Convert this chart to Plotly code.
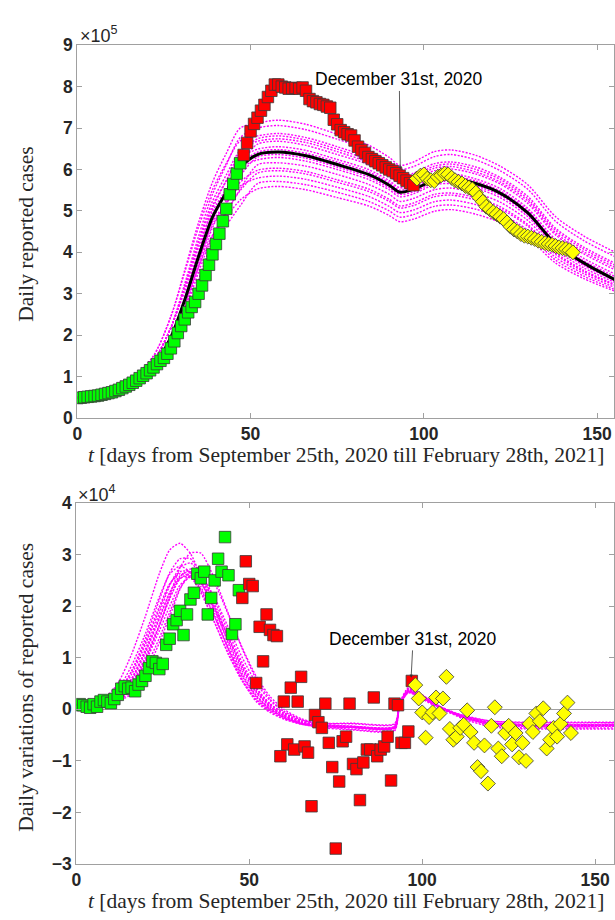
import plotly.graph_objects as go

# ---------------- top panel: daily reported cases (units of 1e5) ----------------
t_green = list(range(0, 48))
top_green = [0.48, 0.49, 0.50, 0.51, 0.52, 0.53, 0.54, 0.56, 0.58, 0.60,
             0.62, 0.65, 0.68, 0.72, 0.76, 0.80, 0.85, 0.90, 0.96, 1.02,
             1.08, 1.15, 1.22, 1.30, 1.38, 1.45, 1.55, 1.68, 1.85, 2.05,
             2.22, 2.38, 2.55, 2.68, 2.80, 3.00, 3.20, 3.45, 3.70, 3.95,
             4.20, 4.45, 4.75, 5.05, 5.40, 5.65, 5.90, 6.15]
t_red = list(range(48, 98))
top_red = [6.35, 6.64, 6.92, 7.10, 7.25, 7.42, 7.56, 7.75, 7.90, 8.05,
           8.05, 8.00, 7.98, 7.95, 7.96, 7.97, 7.95, 7.98, 7.90, 7.70,
           7.65, 7.62, 7.58, 7.56, 7.52, 7.49, 7.20, 7.09, 6.95, 6.90,
           6.85, 6.82, 6.70, 6.55, 6.47, 6.40, 6.30, 6.25, 6.20, 6.15,
           6.10, 6.05, 6.00, 5.96, 5.91, 5.85, 5.79, 5.73, 5.67, 5.62]
t_yellow = list(range(98, 144))
top_yellow = [5.78, 5.85, 5.88, 5.78, 5.74, 5.72, 5.82, 5.86, 5.90, 5.88,
              5.80, 5.74, 5.70, 5.66, 5.60, 5.56, 5.52, 5.44, 5.32, 5.22,
              5.10, 5.04, 4.97, 4.92, 4.86, 4.80, 4.72, 4.62, 4.55, 4.50,
              4.44, 4.40, 4.38, 4.35, 4.32, 4.28, 4.25, 4.22, 4.20, 4.18,
              4.15, 4.12, 4.10, 4.08, 4.05, 4.00]

t_fit = [0, 15, 22, 27, 31, 35, 39, 43, 47, 52, 58, 66, 75, 84, 90, 93, 97,
         103, 108, 115, 122, 130, 138, 146, 156]
fit_best = [0.48, 0.80, 1.25, 1.95, 2.85, 3.90, 4.85, 5.45, 6.05, 6.36, 6.42, 6.33, 6.12,
            5.88, 5.62, 5.45, 5.52, 5.74, 5.78, 5.66, 5.43, 4.95, 4.20, 3.75, 3.30]
fit_runs = [
    [0.50, 0.90, 1.50, 2.45, 3.57, 4.72, 5.69, 6.39, 7.00, 7.12, 7.19, 7.09, 6.85, 6.59, 6.29, 6.10, 6.18, 6.43, 6.47, 6.34, 6.08, 5.63, 4.86, 4.40, 3.97],
    [0.49, 0.85, 1.38, 2.18, 3.24, 4.39, 5.40, 6.11, 6.77, 7.00, 7.06, 6.96, 6.73, 6.47, 6.18, 6.00, 6.07, 6.31, 6.36, 6.23, 5.97, 5.52, 4.75, 4.29, 3.86],
    [0.50, 0.90, 1.50, 2.45, 3.52, 4.61, 5.51, 6.15, 6.69, 6.81, 6.87, 6.77, 6.55, 6.29, 6.01, 5.83, 5.91, 6.14, 6.18, 6.06, 5.81, 5.35, 4.58, 4.13, 3.70],
    [0.48, 0.80, 1.25, 1.95, 2.90, 4.02, 5.05, 5.73, 6.41, 6.74, 6.81, 6.71, 6.49, 6.23, 5.96, 5.78, 5.85, 6.08, 6.13, 6.00, 5.76, 5.29, 4.53, 4.08, 3.65],
    [0.49, 0.85, 1.38, 2.18, 3.20, 4.28, 5.23, 5.87, 6.46, 6.68, 6.74, 6.65, 6.43, 6.17, 5.90, 5.72, 5.80, 6.03, 6.07, 5.94, 5.70, 5.24, 4.47, 4.02, 3.60],
    [0.48, 0.77, 1.17, 1.78, 2.65, 3.72, 4.75, 5.48, 6.14, 6.61, 6.68, 6.58, 6.36, 6.12, 5.84, 5.67, 5.74, 5.97, 6.01, 5.89, 5.65, 5.18, 4.42, 3.97, 3.54],
    [0.49, 0.85, 1.38, 2.18, 3.17, 4.22, 5.12, 5.73, 6.27, 6.49, 6.55, 6.46, 6.24, 6.00, 5.73, 5.56, 5.63, 5.85, 5.90, 5.77, 5.54, 5.06, 4.31, 3.86, 3.44],
    [0.48, 0.80, 1.25, 1.95, 2.86, 3.92, 4.88, 5.49, 6.11, 6.42, 6.48, 6.39, 6.18, 5.94, 5.68, 5.50, 5.58, 5.80, 5.84, 5.72, 5.48, 5.01, 4.25, 3.80, 3.38],
    [0.48, 0.77, 1.17, 1.78, 2.62, 3.63, 4.59, 5.26, 5.84, 6.30, 6.36, 6.27, 6.06, 5.82, 5.56, 5.40, 5.46, 5.68, 5.72, 5.60, 5.38, 4.91, 4.16, 3.72, 3.31],
    [0.49, 0.85, 1.38, 2.18, 3.13, 4.14, 4.98, 5.53, 6.03, 6.23, 6.29, 6.20, 6.00, 5.76, 5.51, 5.34, 5.41, 5.63, 5.66, 5.55, 5.32, 4.86, 4.13, 3.69, 3.28],
    [0.47, 0.74, 1.10, 1.62, 2.37, 3.33, 4.28, 4.95, 5.52, 6.11, 6.16, 6.08, 5.88, 5.64, 5.40, 5.23, 5.30, 5.51, 5.55, 5.43, 5.21, 4.77, 4.06, 3.63, 3.24],
    [0.48, 0.80, 1.25, 1.95, 2.80, 3.78, 4.65, 5.17, 5.69, 5.98, 6.03, 5.95, 5.75, 5.53, 5.28, 5.12, 5.19, 5.40, 5.43, 5.32, 5.10, 4.67, 3.99, 3.57, 3.19],
    [0.48, 0.77, 1.17, 1.78, 2.56, 3.52, 4.39, 4.98, 5.49, 5.91, 5.97, 5.89, 5.69, 5.47, 5.23, 5.07, 5.13, 5.34, 5.38, 5.26, 5.05, 4.63, 3.95, 3.54, 3.17],
    [0.49, 0.85, 1.38, 2.18, 3.06, 3.99, 4.73, 5.20, 5.60, 5.79, 5.84, 5.76, 5.57, 5.35, 5.11, 4.96, 5.02, 5.22, 5.26, 5.15, 4.94, 4.53, 3.88, 3.49, 3.12],
    [0.47, 0.74, 1.10, 1.62, 2.32, 3.21, 4.06, 4.64, 5.12, 5.66, 5.71, 5.63, 5.45, 5.23, 5.00, 4.85, 4.91, 5.11, 5.14, 5.04, 4.83, 4.45, 3.81, 3.43, 3.07],
    [0.48, 0.80, 1.25, 1.95, 2.74, 3.65, 4.41, 4.85, 5.26, 5.53, 5.59, 5.51, 5.32, 5.12, 4.89, 4.74, 4.80, 4.99, 5.03, 4.92, 4.72, 4.35, 3.74, 3.37, 3.03],
]

# ---------------- bottom panel: daily variations (units of 1e4) ----------------
var_green = [0.08, 0.10, 0.08, 0.05, 0.03, 0.10, 0.05, 0.15, 0.18, 0.15,
             0.12, 0.20, 0.28, 0.40, 0.45, 0.40, 0.42, 0.35, 0.48, 0.55,
             0.65, 0.80, 0.93, 0.90, 0.78, 0.88, 1.25, 1.37, 1.65, 1.73,
             1.91, 1.44, 1.84, 2.13, 2.26, 2.63, 2.54, 2.67, 1.84, 2.16,
             2.50, 2.92, 2.67, 3.34, 2.60, 1.46, 1.65, 2.31]
var_red = [2.16, 2.87, 2.43, 2.39, 0.51, 1.60, 0.93, 1.84, 1.54, 1.44,
           1.42, -0.91, 0.15, -0.68, 0.42, -0.78, 0.15, 0.63, -0.72, -0.84,
           -1.88, -0.11, -0.25, -0.36, 0.11, -0.65, -1.12, -2.70, -1.40, -0.62,
           -0.53, 0.11, -1.06, -1.16, -1.76, -1.03, -0.78, -0.78, 0.23, -0.91,
           -0.78, -0.72, -0.53, -1.38, 0.11, 0.08, -0.65, -0.65, -0.43, 0.55]
var_yellow = [0.47, 0.21, -0.06, -0.55, -0.15, -0.06, 0.23, -0.08, 0.21, 0.63,
              -0.38, -0.59, -0.53, -0.36, -0.30, -0.02, -0.44, -0.65, -1.12, -1.20,
              -0.70, -1.44, -0.32, 0.04, -0.76, -0.91, -0.46, -0.32, -0.68, -0.46,
              -0.93, -0.65, -1.00, -0.28, -0.44, -0.08, -0.23, 0.02, -0.76, -0.59,
              -0.36, -0.53, -0.28, -0.08, 0.13, -0.46]

t_dfit = [0, 8, 12, 16, 20, 24, 27, 30, 33, 36, 40, 44, 48, 52, 56, 60, 65, 70,
          80, 92, 93.5, 96, 100, 105, 112, 120, 130, 156]
dfit_runs = [
    [0.10, 0.21, 0.50, 1.07, 1.81, 2.63, 3.09, 3.22, 3.02, 2.58, 1.86, 1.15, 0.56, 0.15, -0.06, -0.19, -0.29, -0.33, -0.39, -0.40, 0.12, 0.42, 0.28, 0.06, -0.17, -0.32, -0.36, -0.36],
    [0.08, 0.12, 0.19, 0.42, 0.94, 1.62, 2.20, 2.75, 3.03, 3.03, 2.53, 1.85, 1.17, 0.59, 0.20, -0.04, -0.20, -0.29, -0.33, -0.34, 0.10, 0.40, 0.27, 0.06, -0.13, -0.26, -0.30, -0.30],
    [0.08, 0.16, 0.32, 0.74, 1.38, 2.12, 2.65, 2.92, 2.92, 2.60, 1.96, 1.27, 0.69, 0.27, 0.00, -0.16, -0.28, -0.35, -0.40, -0.42, 0.08, 0.37, 0.24, 0.04, -0.19, -0.34, -0.38, -0.38],
    [0.08, 0.13, 0.24, 0.59, 1.17, 1.86, 2.40, 2.75, 2.84, 2.61, 2.04, 1.39, 0.80, 0.35, 0.05, -0.12, -0.25, -0.31, -0.34, -0.35, 0.09, 0.36, 0.25, 0.05, -0.15, -0.27, -0.31, -0.31],
    [0.09, 0.17, 0.38, 0.85, 1.47, 2.18, 2.62, 2.78, 2.65, 2.30, 1.68, 1.06, 0.54, 0.18, -0.04, -0.18, -0.28, -0.33, -0.36, -0.37, 0.11, 0.39, 0.26, 0.05, -0.16, -0.29, -0.33, -0.33],
    [0.08, 0.12, 0.20, 0.47, 0.98, 1.62, 2.14, 2.57, 2.72, 2.60, 2.11, 1.49, 0.90, 0.42, 0.11, -0.08, -0.23, -0.30, -0.33, -0.33, 0.10, 0.35, 0.23, 0.04, -0.14, -0.26, -0.29, -0.29],
    [0.08, 0.15, 0.29, 0.68, 1.26, 1.94, 2.43, 2.67, 2.67, 2.38, 1.79, 1.16, 0.63, 0.24, 0.00, -0.15, -0.27, -0.32, -0.35, -0.36, 0.09, 0.38, 0.25, 0.05, -0.16, -0.28, -0.32, -0.32],
    [0.08, 0.12, 0.23, 0.56, 1.10, 1.75, 2.26, 2.59, 2.67, 2.46, 1.92, 1.31, 0.75, 0.33, 0.05, -0.12, -0.25, -0.31, -0.34, -0.34, 0.08, 0.34, 0.22, 0.03, -0.16, -0.28, -0.31, -0.31],
    [0.08, 0.15, 0.32, 0.74, 1.31, 1.99, 2.43, 2.63, 2.57, 2.26, 1.68, 1.07, 0.57, 0.20, -0.02, -0.16, -0.28, -0.32, -0.35, -0.35, 0.10, 0.36, 0.24, 0.05, -0.15, -0.27, -0.30, -0.30],
    [0.08, 0.10, 0.16, 0.36, 0.80, 1.38, 1.88, 2.35, 2.59, 2.59, 2.16, 1.58, 1.00, 0.51, 0.17, -0.04, -0.20, -0.27, -0.28, -0.29, 0.07, 0.33, 0.22, 0.04, -0.12, -0.23, -0.26, -0.26],
    [0.08, 0.13, 0.25, 0.60, 1.13, 1.78, 2.26, 2.54, 2.58, 2.33, 1.79, 1.19, 0.66, 0.27, 0.02, -0.14, -0.26, -0.32, -0.35, -0.36, 0.06, 0.32, 0.20, 0.02, -0.17, -0.29, -0.33, -0.33],
    [0.08, 0.11, 0.18, 0.44, 0.92, 1.52, 2.00, 2.41, 2.56, 2.44, 1.98, 1.40, 0.85, 0.40, 0.10, -0.07, -0.22, -0.27, -0.27, -0.28, 0.08, 0.34, 0.22, 0.03, -0.13, -0.23, -0.25, -0.25],
    [0.08, 0.10, 0.15, 0.30, 0.69, 1.29, 1.80, 2.33, 2.67, 2.75, 2.43, 1.83, 1.19, 0.64, 0.25, 0.00, -0.18, -0.28, -0.33, -0.35, 0.09, 0.37, 0.25, 0.05, -0.15, -0.28, -0.32, -0.32],
    [0.08, 0.12, 0.21, 0.50, 1.02, 1.64, 2.16, 2.53, 2.64, 2.47, 1.97, 1.37, 0.81, 0.36, 0.08, -0.10, -0.24, -0.31, -0.34, -0.35, 0.08, 0.36, 0.24, 0.04, -0.15, -0.28, -0.31, -0.31],
]

top_ticks = [0, 1, 2, 3, 4, 5, 6, 7, 8, 9]
bottom_ticks = [-3, -2, -1, 0, 1, 2, 3, 4]
x_ticks = [0, 50, 100, 150]
x_title = "<i>t</i> [days from September 25th, 2020 till February 28th, 2021]"

MAG = "#ff00ff"
AXC = "#a0a0a0"
TXT = "#262626"
W, H = 615, 920

fig = go.Figure()

# top panel
for run in fit_runs:
    fig.add_trace(go.Scatter(x=t_fit, y=run, mode="lines", xaxis="x", yaxis="y",
                             line=dict(color=MAG, width=1.4, dash="2px,1.5px", shape="spline", smoothing=0.8),
                             hoverinfo="skip"))
fig.add_trace(go.Scatter(x=t_fit, y=fit_best, mode="lines", xaxis="x", yaxis="y",
                         line=dict(color="black", width=3, shape="spline", smoothing=0.8)))
edge = dict(color="#3a3a3a", width=0.8)
fig.add_trace(go.Scatter(x=t_green, y=top_green, mode="markers", xaxis="x", yaxis="y",
                         marker=dict(symbol="square", size=11.5, color="#00ff00", line=edge)))
fig.add_trace(go.Scatter(x=t_red, y=top_red, mode="markers", xaxis="x", yaxis="y",
                         marker=dict(symbol="square", size=11.5, color="#ff0000", line=edge)))
fig.add_trace(go.Scatter(x=t_yellow, y=top_yellow, mode="markers", xaxis="x", yaxis="y",
                         marker=dict(symbol="diamond", size=11.5, color="#ffff00", line=edge)))

# bottom panel
for run in dfit_runs:
    fig.add_trace(go.Scatter(x=t_dfit, y=run, mode="lines", xaxis="x2", yaxis="y2",
                             line=dict(color=MAG, width=1.4, dash="2px,1.5px", shape="spline", smoothing=0.6),
                             hoverinfo="skip"))
fig.add_trace(go.Scatter(x=t_green, y=var_green, mode="markers", xaxis="x2", yaxis="y2",
                         marker=dict(symbol="square", size=11.5, color="#00ff00", line=edge)))
fig.add_trace(go.Scatter(x=t_red, y=var_red, mode="markers", xaxis="x2", yaxis="y2",
                         marker=dict(symbol="square", size=11.5, color="#ff0000", line=edge)))
fig.add_trace(go.Scatter(x=t_yellow, y=var_yellow, mode="markers", xaxis="x2", yaxis="y2",
                         marker=dict(symbol="diamond", size=11.5, color="#ffff00", line=edge)))

tickfont = dict(family="Liberation Sans, Arial", size=17.5, color=TXT, weight="bold")
common = dict(showline=True, linecolor=AXC, linewidth=1, mirror="ticks", ticks="inside",
              ticklen=5, tickcolor=AXC, showgrid=False, tickfont=tickfont)

fig.update_layout(
    width=W, height=H, margin=dict(l=0, r=0, t=0, b=0),
    plot_bgcolor="white", paper_bgcolor="white", showlegend=False,
    xaxis=dict(domain=[73 / W, 1], range=[0, 154.86], tickvals=x_ticks, anchor="y",
               zeroline=False, **common),
    yaxis=dict(domain=[(H - 417) / H, (H - 36) / H], range=[0, 9], tickvals=top_ticks,
               anchor="x", zeroline=False, **common),
    xaxis2=dict(domain=[72 / W, 1], range=[0, 155.45], tickvals=x_ticks, anchor="y2",
                zeroline=False, **common),
    yaxis2=dict(domain=[(H - 873) / H, (H - 504) / H], range=[-3, 4], tickvals=bottom_ticks,
                anchor="x2", zeroline=True, zerolinecolor=AXC, zerolinewidth=1, **common),
)

serif = dict(family="Liberation Serif, Times New Roman", size=21.5, color=TXT)
sans = dict(family="Liberation Sans, Arial", size=17.5, color="black")
expfont = dict(family="Liberation Sans, Arial", size=18, color=TXT)

anns = [
    dict(text="×10<sup>5</sup>", x=74 / W, y=(H - 25) / H, xanchor="left", yanchor="middle", font=expfont),
    dict(text="×10<sup>4</sup>", x=72 / W, y=(H - 494) / H, xanchor="left", yanchor="middle", font=expfont),
    dict(text="Daily reported cases", x=21 / W, y=(H - 229) / H, textangle=-90,
         xanchor="center", yanchor="middle", font=serif),
    dict(text="Daily variations of reported cases", x=21 / W, y=(H - 692) / H, textangle=-90,
         xanchor="center", yanchor="middle", font=serif),
    dict(text=x_title, x=345 / W, y=(H - 455) / H, xanchor="center", yanchor="middle", font=serif),
    dict(text=x_title, x=345 / W, y=(H - 911) / H, xanchor="center", yanchor="middle", font=serif),
]
for a in anns:
    a.update(xref="paper", yref="paper", showarrow=False)
anns.append(dict(text="December 31st, 2020", x=93.2, y=6.0, xref="x", yref="y",
                 showarrow=True, ax=-1, ay=-90, arrowhead=2, arrowsize=0.8, arrowwidth=0.8,
                 arrowcolor="#333333", font=sans))
anns.append(dict(text="December 31st, 2020", x=96.8, y=0.61, xref="x2", yref="y2",
                 showarrow=True, ax=2, ay=-39, arrowhead=2, arrowsize=0.8, arrowwidth=0.8,
                 arrowcolor="#333333", font=sans))
fig.update_layout(annotations=anns)

fig.write_html("out.html", config={"displayModeBar": False},
               post_script="document.body.style.margin='0';document.body.style.padding='0';"
                           "document.documentElement.style.overflow='hidden';")
